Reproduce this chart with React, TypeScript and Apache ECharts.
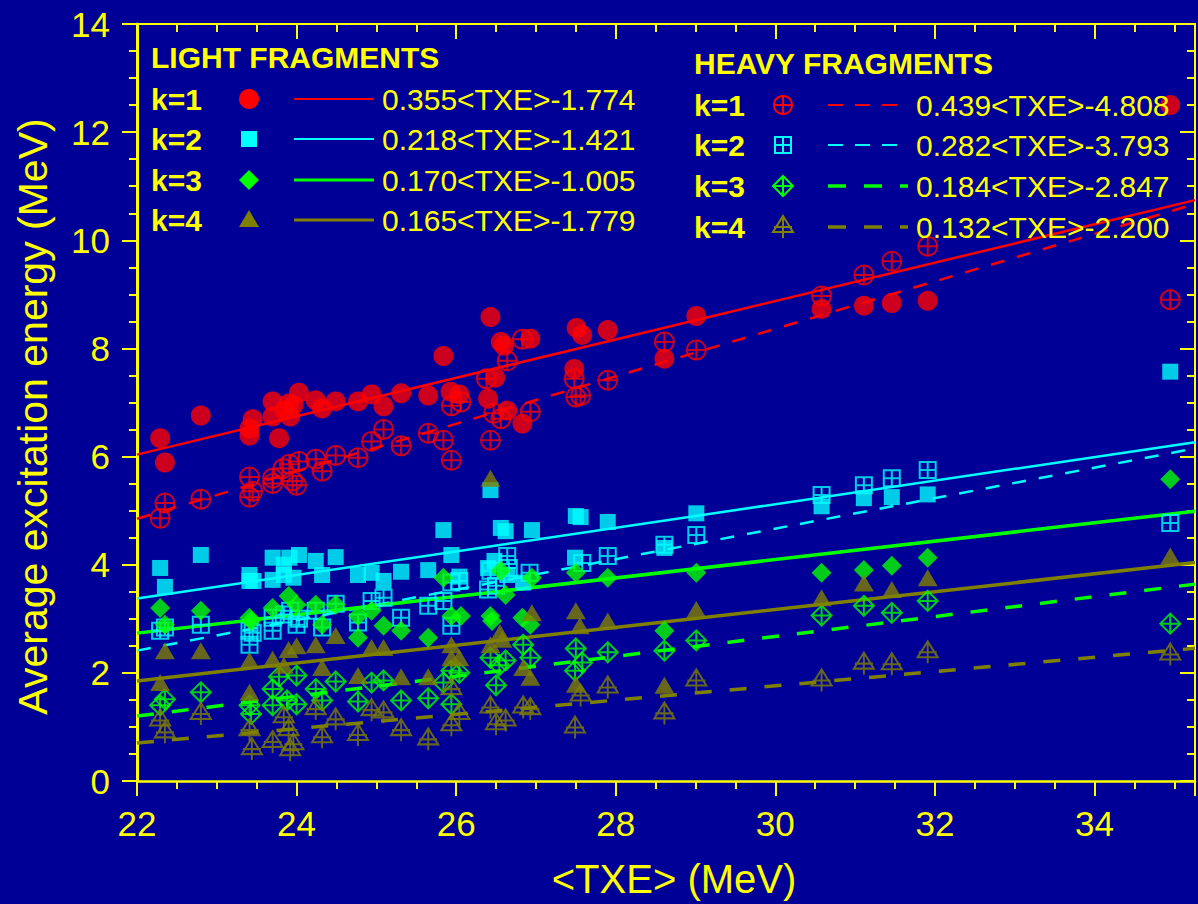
import React, { useEffect, useRef } from 'react';
import * as echarts from 'echarts';

const BG = '#000096';
const YEL = '#FFFF00';
const RED = '#FF0000';
const CYAN = '#00FFFF';
const GREEN = '#00FF00';
const OLIVE = '#808000';
const FONT = 'Liberation Sans, Arial, Helvetica, sans-serif';

const X_MIN = 22;
const X_MAX = 35.26;
const Y_MIN = 0;
const Y_MAX = 14;

// Light fragments
const lightK1: number[][] = [
  [22.29, 6.34], [22.35, 5.89], [22.8, 6.76], [23.41, 6.39], [23.41, 6.52], [23.45, 6.69],
  [23.7, 7.02], [23.7, 6.74], [23.78, 6.34], [23.85, 6.85], [23.9, 6.98], [23.92, 6.74],
  [23.96, 6.95], [24.03, 7.18], [24.24, 7.04], [24.32, 6.89], [24.49, 7.02], [24.77, 7.02],
  [24.94, 7.15], [25.09, 6.93], [25.31, 7.17], [25.65, 7.13], [25.84, 7.86], [25.93, 7.2],
  [26.04, 7.15], [26.4, 7.07], [26.43, 8.58], [26.49, 7.46], [26.56, 8.12], [26.6, 8.05],
  [26.64, 6.85], [26.83, 6.61], [26.93, 8.18], [27.48, 7.62], [27.51, 8.38], [27.58, 8.25],
  [27.9, 8.34], [28.61, 7.81], [29.01, 8.6], [30.58, 8.73], [31.11, 8.79], [31.46, 8.84],
  [31.91, 8.88], [34.95, 12.5],
];
const lightK2: number[][] = [
  [22.29, 3.94], [22.35, 3.59], [22.8, 4.18], [23.41, 3.81], [23.41, 3.7], [23.46, 3.7],
  [23.7, 4.13], [23.7, 3.72], [23.84, 4.0], [23.84, 3.81], [23.91, 4.13], [23.96, 3.76],
  [24.03, 4.18], [24.24, 4.07], [24.32, 3.81], [24.49, 4.14], [24.77, 3.81], [24.94, 3.85],
  [25.09, 3.7], [25.31, 3.87], [25.65, 3.9], [25.84, 4.64], [25.94, 4.18], [26.04, 3.78],
  [26.4, 3.94], [26.43, 5.38], [26.48, 4.07], [26.56, 4.68], [26.62, 4.62], [26.64, 3.81],
  [26.84, 3.67], [26.95, 4.64], [27.49, 4.13], [27.5, 4.9], [27.56, 4.88], [27.9, 4.79],
  [28.61, 4.31], [29.01, 4.95], [30.58, 5.08], [31.11, 5.23], [31.46, 5.25], [31.91, 5.3],
  [34.95, 7.57],
];
const lightK3: number[][] = [
  [22.29, 3.2], [22.35, 2.89], [22.8, 3.15], [23.41, 3.02], [23.43, 2.96], [23.7, 3.2],
  [23.9, 3.42], [24.0, 3.26], [24.24, 3.26], [24.32, 2.89], [24.49, 3.26], [24.77, 3.05],
  [24.77, 2.65], [24.94, 3.15], [25.09, 2.87], [25.31, 2.78], [25.65, 2.65], [25.84, 3.76],
  [25.94, 3.05], [26.06, 3.05], [26.43, 3.05], [26.45, 2.96], [26.56, 3.89], [26.62, 3.44],
  [26.83, 3.02], [26.93, 2.89], [26.95, 3.76], [27.5, 3.85], [27.9, 3.76], [28.61, 2.78],
  [29.01, 3.85], [30.58, 3.85], [31.11, 3.9], [31.46, 3.98], [31.91, 4.13], [34.95, 5.58],
];
const lightK4: number[][] = [
  [22.29, 1.82], [22.35, 2.41], [22.8, 2.41], [23.41, 2.23], [23.41, 1.64], [23.7, 2.25],
  [23.84, 2.14], [23.9, 2.43], [24.0, 2.5], [24.24, 2.52], [24.32, 2.1], [24.49, 2.69],
  [24.77, 1.95], [24.94, 2.47], [25.09, 2.47], [25.31, 1.93], [25.65, 1.93], [25.94, 2.52],
  [25.94, 2.28], [26.04, 2.28], [26.43, 5.6], [26.43, 2.52], [26.55, 2.74], [26.58, 2.62],
  [26.84, 2.1], [26.93, 1.92], [26.95, 3.11], [27.5, 1.79], [27.5, 3.15], [27.55, 2.87],
  [27.9, 2.96], [28.61, 1.77], [29.01, 3.17], [30.58, 3.39], [31.11, 3.66], [31.46, 3.54],
  [31.91, 3.76], [34.95, 4.16],
];

// Heavy fragments
const heavyK1: number[][] = [
  [22.29, 4.86], [22.35, 5.14], [22.8, 5.21], [23.41, 5.62], [23.41, 5.25], [23.45, 5.36],
  [23.7, 5.6], [23.7, 5.5], [23.83, 5.78], [23.91, 5.86], [23.95, 5.55], [24.0, 5.47],
  [24.03, 5.91], [24.24, 5.95], [24.32, 5.73], [24.49, 6.02], [24.77, 5.98], [24.94, 6.28],
  [25.09, 6.5], [25.31, 6.2], [25.65, 6.43], [25.84, 6.3], [25.94, 5.93], [25.94, 6.94],
  [26.06, 7.01], [26.38, 7.44], [26.43, 6.3], [26.47, 6.8], [26.56, 6.7], [26.64, 7.77],
  [26.83, 8.17], [26.93, 6.83], [27.48, 7.44], [27.5, 7.1], [27.56, 7.13], [27.9, 7.41],
  [28.61, 8.12], [29.01, 7.97], [30.58, 8.97], [31.11, 9.36], [31.46, 9.61], [31.91, 9.89],
  [34.95, 8.9],
];
const heavyK2: number[][] = [
  [22.29, 2.78], [22.35, 2.84], [22.8, 2.89], [23.41, 2.78], [23.41, 2.52], [23.45, 2.74],
  [23.7, 3.02], [23.7, 2.78], [23.84, 3.08], [23.92, 3.15], [24.0, 2.89], [24.03, 3.0],
  [24.24, 3.15], [24.32, 2.84], [24.49, 3.28], [24.77, 2.93], [24.94, 3.33], [25.09, 3.39],
  [25.31, 3.02], [25.65, 3.24], [25.84, 3.33], [25.94, 2.87], [25.94, 3.67], [26.04, 3.7],
  [26.4, 3.54], [26.43, 3.89], [26.5, 3.61], [26.64, 4.16], [26.66, 3.94], [26.92, 3.85],
  [27.58, 4.03], [27.9, 4.16], [28.61, 4.37], [29.01, 4.55], [30.58, 5.29], [31.11, 5.47],
  [31.46, 5.6], [31.91, 5.75], [34.95, 4.77],
];
const heavyK3: number[][] = [
  [22.29, 1.4], [22.35, 1.51], [22.8, 1.64], [23.41, 1.4], [23.43, 1.24], [23.7, 1.7],
  [23.7, 1.4], [23.78, 1.93], [23.88, 1.49], [24.0, 1.95], [24.0, 1.42], [24.24, 1.7],
  [24.32, 1.49], [24.49, 1.84], [24.77, 1.47], [24.94, 1.82], [25.09, 1.86], [25.31, 1.49],
  [25.65, 1.53], [25.84, 1.82], [25.94, 2.04], [25.94, 1.42], [26.04, 2.0], [26.43, 2.28],
  [26.5, 1.77], [26.54, 2.14], [26.62, 2.23], [26.84, 2.52], [26.93, 2.28], [27.49, 2.04],
  [27.5, 2.45], [27.58, 2.19], [27.9, 2.38], [28.61, 2.41], [29.01, 2.6], [30.58, 3.06],
  [31.11, 3.24], [31.46, 3.11], [31.91, 3.33], [34.95, 2.91],
];
const heavyK4: number[][] = [
  [22.29, 1.12], [22.35, 0.9], [22.8, 1.24], [23.41, 0.94], [23.44, 0.59], [23.7, 0.72],
  [23.84, 1.18], [23.9, 0.94], [23.96, 0.68], [23.92, 0.57], [24.24, 1.33], [24.32, 0.81],
  [24.49, 1.14], [24.77, 0.85], [24.94, 1.31], [25.09, 1.27], [25.31, 0.94], [25.65, 0.77],
  [25.94, 1.7], [25.94, 1.03], [26.04, 1.24], [26.43, 1.36], [26.5, 1.05], [26.62, 1.12],
  [26.84, 1.36], [26.93, 1.33], [27.49, 0.99], [27.56, 1.58], [27.9, 1.73], [28.61, 1.25],
  [29.01, 1.86], [30.58, 1.86], [31.11, 2.17], [31.46, 2.16], [31.91, 2.38], [34.95, 2.34],
];

// Fit coefficients [slope, intercept]
const lightFits: number[][] = [[0.355, -1.774], [0.218, -1.421], [0.170, -1.005], [0.165, -1.779]];
const heavyFits: number[][] = [[0.439, -4.808], [0.282, -3.793], [0.184, -2.847], [0.132, -2.200]];
const lightLabels = ['0.355<TXE>-1.774', '0.218<TXE>-1.421', '0.170<TXE>-1.005', '0.165<TXE>-1.779'];
const heavyLabels = ['0.439<TXE>-4.808', '0.282<TXE>-3.793', '0.184<TXE>-2.847', '0.132<TXE>-2.200'];
const kLabels = ['k=1', 'k=2', 'k=3', 'k=4'];

const COLORS = [RED, CYAN, GREEN, OLIVE];
const LIGHT_W = [2.5, 2.5, 3.5, 3.5];
const HEAVY_DASH = [[14, 13], [14, 13], [17, 18], [17, 18]];

const PATH_CIRCLE = 'path://M10,0 A10,10 0 1,1 -10,0 A10,10 0 1,1 10,0 Z M-10,0 L10,0 M0,-10 L0,10';
const PATH_SQUARE = 'path://M-8,-8 L8,-8 L8,8 L-8,8 Z M-8,0 L8,0 M0,-8 L0,8';
const PATH_DIAMOND = 'path://M0,-10 L10,0 L0,10 L-10,0 Z M-10,0 L10,0 M0,-10 L0,10';
const PATH_TRI = 'path://M0,-11 L10,5 L-10,5 Z M-9,0 L9,0 M0,-11 L0,11';

const fitData = (f: number[]) => [
  [X_MIN, f[0] * X_MIN + f[1]],
  [X_MAX, f[0] * X_MAX + f[1]],
];

function buildLegend() {
  const els: any[] = [];
  const txt = (x: number, y: number, text: string, bold: boolean) => ({
    type: 'text',
    z: 100,
    style: {
      x, y, text, fill: YEL, fontFamily: FONT, fontSize: 30,
      fontWeight: bold ? 'bold' : 'normal', verticalAlign: 'middle', align: 'left',
    },
  });
  // light
  els.push(txt(151, 57, 'LIGHT FRAGMENTS', true));
  const lRows = [99, 139, 180, 220];
  lRows.forEach((y, i) => {
    els.push(txt(151, y, kLabels[i], true));
    els.push(txt(382, y, lightLabels[i], false));
    els.push({
      type: 'line', z: 100,
      shape: { x1: 294, y1: y, x2: 374, y2: y },
      style: { stroke: COLORS[i], lineWidth: i < 2 ? 2 : 3 },
    });
  });
  const mx = 249;
  els.push({ type: 'circle', z: 100, shape: { cx: mx, cy: lRows[0], r: 10 }, style: { fill: RED } });
  els.push({ type: 'rect', z: 100, shape: { x: mx - 8, y: lRows[1] - 8, width: 16, height: 16 }, style: { fill: CYAN } });
  els.push({
    type: 'polygon', z: 100,
    shape: { points: [[mx, lRows[2] - 10], [mx + 10, lRows[2]], [mx, lRows[2] + 10], [mx - 10, lRows[2]]] },
    style: { fill: GREEN },
  });
  els.push({
    type: 'polygon', z: 100,
    shape: { points: [[mx, lRows[3] - 10], [mx + 10, lRows[3] + 7], [mx - 10, lRows[3] + 7]] },
    style: { fill: OLIVE },
  });

  // heavy
  els.push(txt(694, 63, 'HEAVY FRAGMENTS', true));
  const hRows = [105, 145, 186, 227];
  hRows.forEach((y, i) => {
    els.push(txt(694, y, kLabels[i], true));
    els.push(txt(916, y, heavyLabels[i], false));
    els.push({
      type: 'line', z: 100,
      shape: { x1: 828, y1: y, x2: 908, y2: y },
      style: { stroke: COLORS[i], lineWidth: i < 2 ? 2 : 3.5, lineDash: i < 2 ? [15, 12] : [18, 18] },
    });
  });
  const hx = 783;
  const st = (c: string) => ({ stroke: c, lineWidth: 2, fill: 'none' });
  let y = hRows[0];
  els.push({ type: 'circle', z: 100, shape: { cx: hx, cy: y, r: 9 }, style: st(RED) });
  els.push({ type: 'line', z: 100, shape: { x1: hx - 9, y1: y, x2: hx + 9, y2: y }, style: st(RED) });
  els.push({ type: 'line', z: 100, shape: { x1: hx, y1: y - 9, x2: hx, y2: y + 9 }, style: st(RED) });
  y = hRows[1];
  els.push({ type: 'rect', z: 100, shape: { x: hx - 8, y: y - 8, width: 16, height: 16 }, style: st(CYAN) });
  els.push({ type: 'line', z: 100, shape: { x1: hx - 8, y1: y, x2: hx + 8, y2: y }, style: st(CYAN) });
  els.push({ type: 'line', z: 100, shape: { x1: hx, y1: y - 8, x2: hx, y2: y + 8 }, style: st(CYAN) });
  y = hRows[2];
  els.push({
    type: 'polygon', z: 100,
    shape: { points: [[hx, y - 10], [hx + 10, y], [hx, y + 10], [hx - 10, y]] }, style: st(GREEN),
  });
  els.push({ type: 'line', z: 100, shape: { x1: hx - 10, y1: y, x2: hx + 10, y2: y }, style: st(GREEN) });
  els.push({ type: 'line', z: 100, shape: { x1: hx, y1: y - 10, x2: hx, y2: y + 10 }, style: st(GREEN) });
  y = hRows[3];
  els.push({
    type: 'polygon', z: 100,
    shape: { points: [[hx, y - 11], [hx + 10, y + 5], [hx - 10, y + 5]] }, style: st(OLIVE),
  });
  els.push({ type: 'line', z: 100, shape: { x1: hx - 9, y1: y, x2: hx + 9, y2: y }, style: st(OLIVE) });
  els.push({ type: 'line', z: 100, shape: { x1: hx, y1: y - 11, x2: hx, y2: y + 11 }, style: st(OLIVE) });
  return els;
}

function buildOption() {
  const tickStyle = { color: YEL, width: 2 };
  const mainX = {
    type: 'value', min: X_MIN, max: X_MAX, interval: 2, position: 'bottom',
    axisLine: { show: true, onZero: false, lineStyle: { color: YEL, width: 2.5 } },
    axisTick: { show: true, inside: false, length: 15, lineStyle: tickStyle },
    minorTick: { show: true, splitNumber: 4, length: 8, lineStyle: tickStyle },
    splitLine: { show: false },
    axisLabel: {
      color: YEL, fontSize: 35, fontFamily: FONT, margin: 25,
      formatter: (v: number) => (Math.abs(v - Math.round(v)) < 1e-6 && Math.round(v) % 2 === 0 ? String(Math.round(v)) : ''),
    },
    name: '<TXE> (MeV)', nameLocation: 'middle', nameGap: 78,
    nameTextStyle: { color: YEL, fontSize: 40, fontFamily: FONT, padding: [0, 0, 0, 16] },
  };
  const topX = {
    type: 'value', min: X_MIN, max: X_MAX, interval: 2, position: 'top',
    axisLine: { show: true, onZero: false, lineStyle: { color: YEL, width: 2 } },
    axisTick: { show: true, inside: true, length: 15, lineStyle: tickStyle },
    minorTick: { show: true, splitNumber: 4, length: 8, lineStyle: tickStyle },
    splitLine: { show: false },
    axisLabel: { show: false },
  };
  const mainY = {
    type: 'value', min: Y_MIN, max: Y_MAX, interval: 2, position: 'left',
    axisLine: { show: true, onZero: false, lineStyle: { color: YEL, width: 3 } },
    axisTick: { show: true, inside: false, length: 15, lineStyle: tickStyle },
    minorTick: { show: true, splitNumber: 4, length: 8, lineStyle: tickStyle },
    splitLine: { show: false },
    axisLabel: { color: YEL, fontSize: 35, fontFamily: FONT, margin: 27 },
    name: 'Average excitation energy (MeV)', nameLocation: 'middle', nameGap: 84,
    nameTextStyle: { color: YEL, fontSize: 41, fontFamily: FONT, padding: [0, 28, 0, 0] },
  };
  const rightY = {
    type: 'value', min: Y_MIN, max: Y_MAX, interval: 2, position: 'right',
    axisLine: { show: true, onZero: false, lineStyle: { color: YEL, width: 2 } },
    axisTick: { show: true, inside: true, length: 15, lineStyle: tickStyle },
    minorTick: { show: true, splitNumber: 4, length: 8, lineStyle: tickStyle },
    splitLine: { show: false },
    axisLabel: { show: false },
  };

  const series: any[] = [];
  heavyFits.forEach((f, i) => {
    series.push({
      type: 'line', data: fitData(f), symbol: 'none', silent: true, clip: true, z: 2,
      lineStyle: { color: COLORS[i], width: LIGHT_W[i], type: HEAVY_DASH[i] },
    });
  });
  lightFits.forEach((f, i) => {
    series.push({
      type: 'line', data: fitData(f), symbol: 'none', silent: true, clip: true, z: 2,
      lineStyle: { color: COLORS[i], width: LIGHT_W[i], type: 'solid' },
    });
  });
  const heavyStyle = (c: string) => ({ color: 'rgba(0,0,0,0)', borderColor: c, borderWidth: 2 });
  series.push({ type: 'scatter', data: heavyK1, symbol: PATH_CIRCLE, symbolSize: 19, itemStyle: heavyStyle(RED), z: 3 });
  series.push({ type: 'scatter', data: lightK1, symbol: 'circle', symbolSize: 20, itemStyle: { color: RED }, z: 3 });
  series.push({ type: 'scatter', data: lightK2, symbol: 'rect', symbolSize: 16, itemStyle: { color: CYAN }, z: 3 });
  series.push({ type: 'scatter', data: heavyK2, symbol: PATH_SQUARE, symbolSize: 16, itemStyle: heavyStyle(CYAN), z: 3 });
  series.push({ type: 'scatter', data: lightK3, symbol: 'diamond', symbolSize: [20, 20], itemStyle: { color: GREEN }, z: 3 });
  series.push({ type: 'scatter', data: heavyK3, symbol: PATH_DIAMOND, symbolSize: 20, itemStyle: heavyStyle(GREEN), z: 3 });
  series.push({ type: 'scatter', data: lightK4, symbol: 'triangle', symbolSize: [20, 17], itemStyle: { color: OLIVE }, z: 3 });
  series.push({ type: 'scatter', data: heavyK4, symbol: PATH_TRI, symbolSize: [20, 22], itemStyle: heavyStyle(OLIVE), z: 3 });

  return {
    animation: false,
    backgroundColor: BG,
    grid: { left: 137, right: 0, top: 24, bottom: 120, containLabel: false },
    xAxis: [mainX, topX],
    yAxis: [mainY, rightY],
    series,
    graphic: buildLegend(),
  };
}

export default function App() {
  const ref = useRef<HTMLDivElement>(null);
  useEffect(() => {
    document.body.style.margin = '0';
    document.body.style.background = BG;
    const chart = echarts.init(ref.current as HTMLDivElement, null, { renderer: 'svg' });
    chart.setOption(buildOption() as any);
    return () => chart.dispose();
  }, []);
  return <div ref={ref} style={{ width: 1198, height: 904, background: BG }} />;
}
